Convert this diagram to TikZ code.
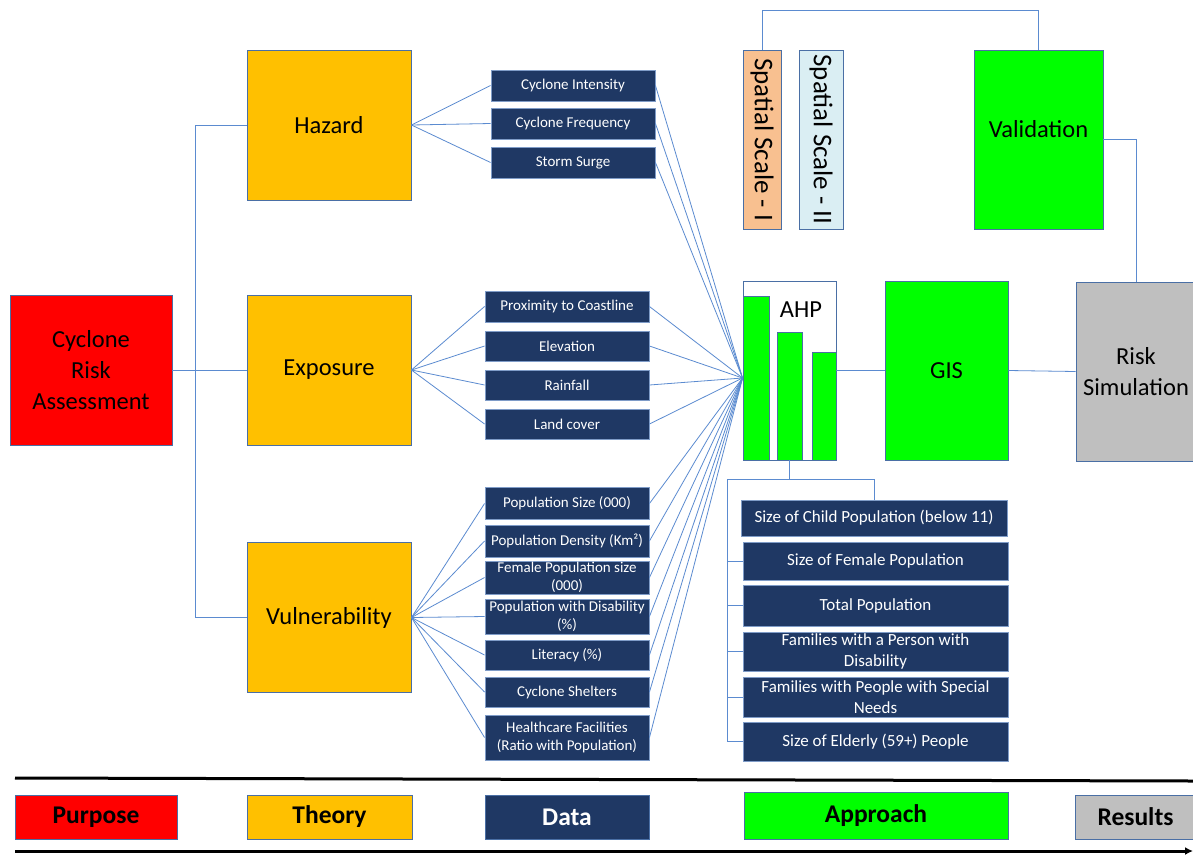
\documentclass[tikz,border=0pt]{standalone}
\usepackage{fontspec}
\setmainfont{Carlito}
\usetikzlibrary{arrows.meta,calc}
\definecolor{navy}{HTML}{1F3864}
\definecolor{amber}{HTML}{FFC000}
\definecolor{gr}{HTML}{00FF00}
\definecolor{grey}{HTML}{BFBFBF}
\definecolor{peach}{HTML}{F8C090}
\definecolor{lblue}{HTML}{DAEEF3}
\definecolor{bord}{HTML}{4A6FA5}
\definecolor{navyb}{HTML}{7F9CC8}
\definecolor{lnk}{HTML}{5B8BD0}
\tikzset{
  box/.style={draw=bord, line width=0.9pt, inner sep=1pt, align=center},
  bigtxt/.style={font=\fontsize{24.5}{31}\selectfont},
  theory/.style={box, bigtxt, fill=amber, minimum width=164, minimum height=150},
  datab/.style={box, fill=navy, draw=navyb, text=white, font=\fontsize{15}{18.5}\selectfont, minimum width=164},
  sideb/.style={box, fill=navy, draw=navyb, text=white, font=\fontsize{17}{21}\selectfont, minimum width=265},
  greenb/.style={box, bigtxt, fill=gr, minimum height=179},
  bar/.style={box, fill=gr},
  legb/.style={box, font=\fontsize{25.5}{28}\selectfont\bfseries, minimum height=44},
  conn/.style={draw=lnk, line width=0.8pt},
}
\begin{document}
\begin{tikzpicture}[x=1pt,y=-1pt]
\useasboundingbox (0,0) rectangle (1193,854);
\fill[white] (0,0) rectangle (1193,854);

% purpose and theory
\node[box, bigtxt, fill=red, minimum width=162, minimum height=150] (cra) at (91,370) {Cyclone\\Risk\\Assessment};
\node[theory] (haz) at (329,125) {Hazard};
\node[theory] (exp) at (329,370) {Exposure};
\node[theory] (vul) at (329,617.5) {Vulnerability};

% data: hazard
\node[datab, minimum height=31] (d1) at (573,85.5) {Cyclone Intensity};
\node[datab, minimum height=31] (d2) at (573,123.5) {Cyclone Frequency};
\node[datab, minimum height=31] (d3) at (573,162.5) {Storm Surge};
% data: exposure
\node[datab, minimum height=31] (e1) at (567,306.5) {Proximity to Coastline};
\node[datab, minimum height=30] (e2) at (567,346) {Elevation};
\node[datab, minimum height=30] (e3) at (567,385) {Rainfall};
\node[datab, minimum height=30] (e4) at (567,424) {Land cover};
% data: vulnerability
\node[datab, minimum height=32] (v1) at (567,503.5) {Population Size (000)};
\node[datab, minimum height=32] (v2) at (567,541) {Population Density (Km²)};
\node[datab, minimum height=31] (v3) at (567,577.5) {Female Population size\\(000)};
\node[datab, minimum height=35] (v4) at (567,616.5) {Population with Disability\\(\%)};
\node[datab, minimum height=30] (v5) at (567,655) {Literacy (\%)};
\node[datab, minimum height=30] (v6) at (567,692) {Cyclone Shelters};
\node[datab, minimum height=45] (v7) at (567,737.5) {Healthcare Facilities\\(Ratio with Population)};

% AHP
\node[box, fill=white, minimum width=93, minimum height=179] (ahp) at (789.5,370.5) {};
\node[bar, minimum width=26, minimum height=164] (bar1) at (756,378) {};
\node[bar, minimum width=25, minimum height=128] (bar2) at (790,396) {};
\node[bar, minimum width=24, minimum height=108] (bar3) at (824,406) {};
\node[bigtxt] (ahplbl) at (801,310) {AHP};

% approach / results
\node[greenb, minimum width=123] (gis) at (946.5,370.5) {GIS};
\node[box, bigtxt, fill=grey, minimum width=120, minimum height=179] (risk) at (1136,371.5) {Risk\\Simulation};
\node[greenb, minimum width=129] (val) at (1038.5,139.5) {\raisebox{22pt}{Validation}};
\node[box, fill=peach, minimum width=38, minimum height=179, font=\fontsize{27}{30}\selectfont] (ss1) at (762,139.5) {\rotatebox{-90}{Spatial Scale - I}};
\node[box, fill=lblue, minimum width=44, minimum height=179, font=\fontsize{27}{30}\selectfont] (ss2) at (821,139.5) {\rotatebox{-90}{Spatial Scale - II}};

% side boxes
\node[sideb, minimum width=266, minimum height=36] (child) at (874,518) {Size of Child Population (below 11)};
\node[sideb, minimum height=38] (fem) at (875.5,561) {Size of Female Population};
\node[sideb, minimum height=41] (tot) at (875.5,605.5) {Total Population};
\node[sideb, minimum height=39] (fam1) at (875.5,651.5) {Families with a Person with\\Disability};
\node[sideb, minimum height=40] (fam2) at (875.5,697) {Families with People with Special\\Needs};
\node[sideb, minimum height=39] (eld) at (875.5,741.5) {Size of Elderly (59+) People};

% connectors: purpose to theory
\coordinate (busx) at (195,0);
\draw[conn] (haz.west) -| (busx |- vul.west) -- (vul.west);
\draw[conn] (cra.east) -- (exp.west);

% theory to data
\foreach \n in {d1,d2,d3} \draw[conn] (haz.east) -- (\n.west);
\foreach \n in {e1,e2,e3,e4} \draw[conn] (exp.east) -- (\n.west);
\foreach \n in {v1,v2,v3,v4,v5,v6,v7} \draw[conn] (vul.east) -- (\n.west);

% data to AHP
\foreach \n in {d1,d2,d3,e1,e2,e3,e4,v1,v2,v3,v4,v5,v6,v7} \draw[conn] (\n.east) -- (bar1.west);

% AHP chain
\draw[conn] (ahp.east) -- (gis.west);
\draw[conn] (gis.east) -- (risk.west);
\draw[conn] (ss1.north) -- ++(0,-39) -| (val.north);
\draw[conn] (val.east) -| (risk.north);

% AHP to side boxes
\coordinate (bl) at (727,479);
\draw[conn] (ahp.south) -- (ahp.south |- bl);
\draw[conn] (child.north) |- (bl) |- (eld.west);
\foreach \n in {fem,tot,fam1,fam2} \draw[conn] (bl |- \n.west) -- (\n.west);

% legend
\coordinate (t1) at (15,778);
\coordinate (t2) at (1193,781);
\coordinate (b1) at (15,851);
\coordinate (b2) at (1193,851);
\draw[line width=3pt] (t1) -- (t2);
\draw[line width=3pt, -{Latex[length=8pt,width=8pt]}] (b1) -- (b2);
\node[legb, fill=red, minimum width=162] (lp) at (96,817) {Purpose};
\node[legb, fill=amber, minimum width=165] (lt) at (329.5,817) {Theory};
\node[legb, fill=navy, text=white, minimum width=164] (ld) at (567,817) {Data};
\node[legb, fill=gr, minimum width=264, minimum height=47] (la) at (876,815.5) {Approach};
\node[legb, fill=grey, minimum width=121] (lr) at (1135.5,817) {Results};
\end{tikzpicture}
\end{document}
